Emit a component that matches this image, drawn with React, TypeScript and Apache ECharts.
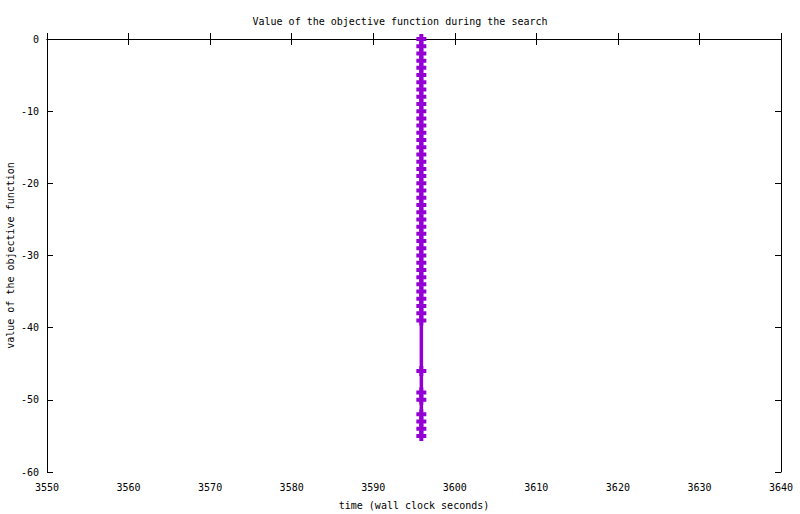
import React, { useEffect, useRef } from "react";
import * as echarts from "echarts";

const titleText = "Value of the objective function during the search";
const xName = "time (wall clock seconds)";
const yName = "value of the objective function";
const times = [
  3595.9, 3595.9, 3595.9, 3595.9, 3595.9, 3595.9, 3595.9, 3595.9, 3595.9, 3595.9,
  3595.9, 3595.9, 3595.9, 3595.9, 3595.9, 3595.9, 3595.9, 3595.9, 3595.9, 3595.9,
  3595.9, 3595.9, 3595.9, 3595.9, 3595.9, 3595.9, 3595.9, 3595.9, 3595.9, 3595.9,
  3595.9, 3595.9, 3595.9, 3595.9, 3595.9, 3595.9, 3595.9, 3595.9, 3595.9, 3595.9,
  3595.9, 3595.9, 3595.9, 3595.9, 3595.9, 3595.9, 3595.9,
];
const values = [
  0, -1, -2, -3, -4, -5, -6, -7, -8, -9,
  -10, -11, -12, -13, -14, -15, -16, -17, -18, -19,
  -20, -21, -22, -23, -24, -25, -26, -27, -28, -29,
  -30, -31, -32, -33, -34, -35, -36, -37, -38, -39,
  -46, -49, -50, -52, -53, -54, -55,
];

const FONT = "DejaVu Sans Mono";
const COLOR = "#9400D3";

export default function App() {
  const ref = useRef<HTMLDivElement>(null);
  useEffect(() => {
    if (!ref.current) return;
    const chart = echarts.init(ref.current, null, { renderer: "svg" });
    const axisLine = { show: true, lineStyle: { color: "#000", width: 1 } };
    const tick = { show: true, inside: true, length: 6, lineStyle: { color: "#000", width: 1 } };
    const label = { color: "#000", fontFamily: FONT, fontSize: 10 };
    const fmt = (v: number) => String(v);
    chart.setOption({
      animation: false,
      backgroundColor: "#fff",
      title: {
        text: titleText,
        left: "center",
        top: 11,
        textStyle: { fontFamily: FONT, fontSize: 10, fontWeight: "normal", color: "#000" },
      },
      grid: { left: 47, right: 19, top: 39, bottom: 42, containLabel: false, outerBoundsMode: "none" },
      xAxis: [
        {
          type: "value",
          min: 3550,
          max: 3640,
          interval: 10,
          name: xName,
          nameLocation: "middle",
          nameGap: 28,
          nameMoveOverlap: false,
          nameTextStyle: label,
          axisLine,
          axisTick: tick,
          axisLabel: { ...label, margin: 10, formatter: fmt },
          splitLine: { show: false },
        },
        {
          type: "value",
          position: "top",
          min: 3550,
          max: 3640,
          interval: 10,
          axisLine,
          axisTick: tick,
          axisLabel: { show: false },
          splitLine: { show: false },
        },
      ],
      yAxis: [
        {
          type: "value",
          min: -60,
          max: 0,
          interval: 10,
          name: yName,
          nameLocation: "middle",
          nameGap: 32,
          nameMoveOverlap: false,
          nameTextStyle: label,
          axisLine,
          axisTick: tick,
          axisLabel: { ...label, margin: 8, formatter: fmt },
          splitLine: { show: false },
        },
        {
          type: "value",
          position: "right",
          min: -60,
          max: 0,
          interval: 10,
          axisLine,
          axisTick: tick,
          axisLabel: { show: false },
          splitLine: { show: false },
        },
      ],
      series: [
        {
          type: "line",
          data: times.map((t, i) => [t, values[i]]),
          lineStyle: { color: COLOR, width: 3.5 },
          itemStyle: { color: COLOR },
          symbol: "path://M3,0H7V3H10V7H7V10H3V7H0V3H3Z",
          symbolSize: 10,
          showSymbol: true,
        },
      ],
    });
    return () => chart.dispose();
  }, []);
  return (
    <div
      ref={ref}
      style={{ position: "fixed", left: 0, top: 0, width: 800, height: 514 }}
    />
  );
}
